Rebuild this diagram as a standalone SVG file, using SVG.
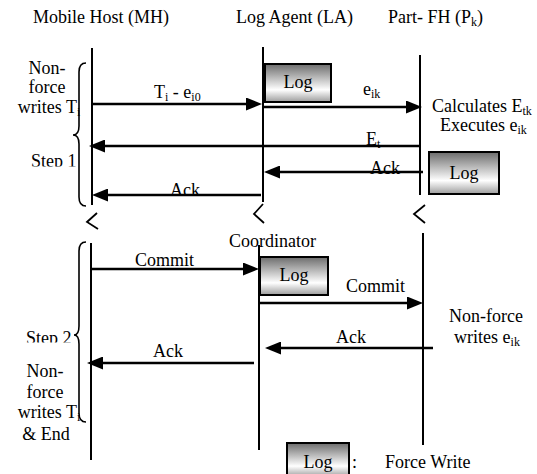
<svg xmlns="http://www.w3.org/2000/svg" width="537" height="474" viewBox="0 0 537 474" font-family="Liberation Serif, serif" font-size="18">
<style>
.sub{font-size:12px}
.life{stroke:#000;stroke-width:2;fill:none}
.brk{stroke:#000;stroke-width:1.8;fill:none}
.brace{stroke:#000;stroke-width:1.6;fill:none}
.logbox{fill:url(#lg);stroke:#000;stroke-width:2}
.msg{stroke:#000;stroke-width:2.6;fill:none;marker-end:url(#ah)}
.mid{text-anchor:middle}
</style>
<defs>
<linearGradient id="lg" x1="0" y1="0" x2="0" y2="1">
<stop offset="0" stop-color="#6c6c6c"/>
<stop offset="0.68" stop-color="#ffffff"/>
<stop offset="1" stop-color="#9c9c9c"/>
</linearGradient>
<marker id="ah" markerUnits="userSpaceOnUse" markerWidth="16" markerHeight="13" refX="8" refY="6.5" orient="auto">
<path d="M0,0 L16,6.5 L0,13 Z" fill="#000"/>
</marker>
<clipPath id="c1"><rect x="0" y="140" width="80" height="26.5"/></clipPath>
<clipPath id="c2"><rect x="0" y="320" width="80" height="22.5"/></clipPath>
</defs>

<g id="titles">
<text x="33" y="23">Mobile Host (MH)</text>
<text x="236" y="23">Log Agent (LA)</text>
<text x="388" y="23">Part- FH (P<tspan class="sub" dy="3">k</tspan><tspan dy="-3">)</tspan></text>
</g>

<g id="mh">
<line class="life" x1="92" y1="48" x2="92" y2="205"/>
<polyline class="brk" points="97,213 87,222 98,229"/>
<line class="life" x1="91" y1="243" x2="91" y2="460"/>
</g>

<g id="la">
<line class="life" x1="263" y1="47" x2="263" y2="202"/>
<polyline class="brk" points="263,204 254,214 264,223"/>
<text x="229" y="247">Coordinator</text>
<line class="life" x1="259" y1="245" x2="259" y2="450"/>
</g>

<g id="part">
<line class="life" x1="420" y1="55" x2="420" y2="195"/>
<polyline class="brk" points="425,205 414,214 425,223"/>
<line class="life" x1="423" y1="233" x2="423" y2="445"/>
</g>

<g id="log-la1">
<rect class="logbox" x="265" y="64" width="66" height="38"/>
<text class="mid" x="298" y="88">Log</text>
</g>

<g id="log-pk">
<rect class="logbox" x="429" y="152" width="70" height="42"/>
<text class="mid" x="464" y="179">Log</text>
</g>

<g id="log-la2">
<rect class="logbox" x="260" y="257" width="68" height="38"/>
<text class="mid" x="294" y="281">Log</text>
</g>

<g id="pk-notes">
<text x="432" y="112">Calculates E<tspan class="sub" dy="3">tk</tspan></text>
<text x="440" y="131">Executes e<tspan class="sub" dy="3">ik</tspan></text>
<text class="mid" x="486" y="322">Non-force</text>
<text class="mid" x="487" y="343">writes e<tspan class="sub" dy="3">ik</tspan></text>
</g>

<g id="step1">
<path class="brace" d="M86,63 Q79,63 79,72 L79,126 Q79,135 73,135 Q79,135 79,144 L79,197 Q79,206 86,206"/>
<text class="mid" x="47" y="74">Non-</text>
<text class="mid" x="47" y="93">force</text>
<text class="mid" x="49" y="113">writes T<tspan class="sub" dy="3">i</tspan></text>
<text x="31" y="167" clip-path="url(#c1)">Step 1</text>
</g>

<g id="step2">
<path class="brace" d="M86,242 Q79,242 79,251 L79,326 Q79,335 74,335 Q79,335 79,344 L79,413 Q79,422 86,422"/>
<text x="26" y="344" clip-path="url(#c2)">Step 2</text>
<text class="mid" x="45" y="377">Non-</text>
<text class="mid" x="45" y="398">force</text>
<text class="mid" x="49" y="418">writes T<tspan class="sub" dy="3">i</tspan></text>
<text class="mid" x="46" y="440">&amp; End</text>
</g>

<g id="legend">
<rect class="logbox" x="287" y="443" width="62" height="34"/>
<text class="mid" x="318" y="468">Log</text>
<text x="352" y="468">:</text>
<text x="385" y="468">Force Write</text>
</g>

<g id="connectors">
<line class="msg" x1="92" y1="104" x2="254" y2="104"/>
<text x="154" y="98">T<tspan class="sub" dy="3">i</tspan><tspan dy="-3"> - e</tspan><tspan class="sub" dy="3">i0</tspan></text>
<line class="msg" x1="263" y1="107" x2="414" y2="107"/>
<text x="363" y="95">e<tspan class="sub" dy="3">ik</tspan></text>
<line class="msg" x1="420" y1="146" x2="97" y2="146"/>
<text x="366" y="145">E<tspan class="sub" dy="3">t</tspan></text>
<line class="msg" x1="423" y1="172" x2="272" y2="172"/>
<text x="370" y="174">Ack</text>
<line class="msg" x1="261" y1="195" x2="100" y2="195"/>
<text x="170" y="196">Ack</text>
<line class="msg" x1="91" y1="269" x2="251" y2="269"/>
<text x="135" y="266">Commit</text>
<line class="msg" x1="259" y1="303" x2="415" y2="303"/>
<text x="346" y="292">Commit</text>
<line class="msg" x1="433" y1="348" x2="273" y2="348"/>
<text x="336" y="343">Ack</text>
<line class="msg" x1="254" y1="363" x2="95" y2="363"/>
<text x="153" y="357">Ack</text>
</g>
</svg>
